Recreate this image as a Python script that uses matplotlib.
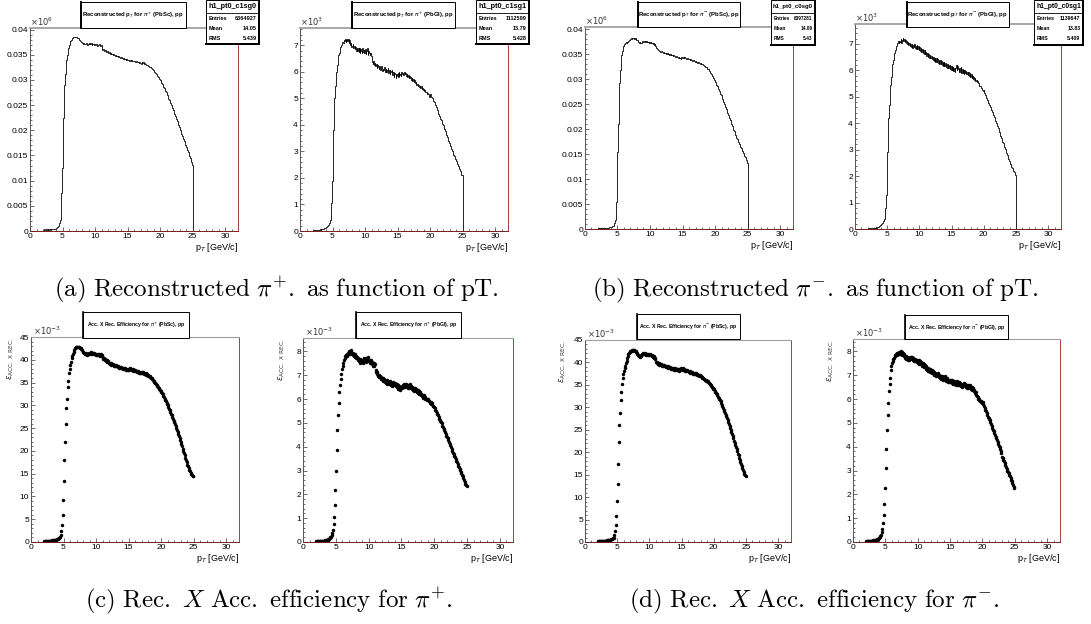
import numpy as np
import matplotlib
matplotlib.use("Agg")
import matplotlib.pyplot as plt
from matplotlib.patches import Rectangle
from matplotlib.lines import Line2D
from matplotlib.ticker import MultipleLocator, AutoMinorLocator, FuncFormatter

W, H = 1091, 624

# pT binning: 0.1 GeV/c bins, filled between 2 and 25 GeV/c
pt_edges = np.linspace(2.0, 25.0, 231)
pt_centers = 0.5 * (pt_edges[:-1] + pt_edges[1:])

# reconstructed pT spectra, counts in units of 10^3 (one row per GeV/c)
pip_pbsc_counts = [
    0.2, 0.2, 0.3, 0.2, 0.2, 0.3, 0.2, 0.3, 0.2, 0.3,
    0.3, 0.3, 0.2, 0.3, 0.3, 0.3, 0.4, 0.3, 0.4, 0.4,
    0.5, 0.6, 0.7, 0.9, 1.1, 1.5, 2.2, 3.8, 7.5, 12.5,
    18.0, 22.5, 26.0, 29.0, 31.2, 32.8, 34.0, 35.0, 35.8, 36.4,
    36.9, 37.3, 37.7, 38.0, 38.2, 38.4, 38.5, 38.5, 38.6, 38.5,
    38.6, 38.5, 38.4, 38.4, 38.3, 38.1, 38.0, 37.8, 37.6, 37.5,
    37.3, 37.2, 37.3, 37.1, 37.2, 37.1, 37.3, 37.2, 37.0, 37.2,
    37.3, 37.2, 37.4, 37.1, 37.3, 37.0, 37.2, 37.1, 36.9, 37.1,
    37.0, 36.9, 37.1, 36.8, 37.0, 36.9, 37.2, 36.8, 36.7, 36.9,
    36.2, 36.0, 35.9, 36.1, 35.8, 35.7, 35.9, 35.6, 35.5, 35.7,
    35.4, 35.3, 35.5, 35.2, 35.3, 35.1, 35.2, 35.0, 35.1, 34.9,
    35.0, 34.8, 34.9, 34.7, 34.8, 34.6, 34.7, 34.5, 34.6, 34.4,
    34.5, 34.3, 34.4, 34.2, 34.3, 34.1, 34.2, 34.0, 34.1, 33.9,
    34.0, 33.9, 34.0, 33.8, 33.9, 33.7, 33.9, 33.8, 33.7, 33.8,
    33.7, 33.8, 33.6, 33.7, 33.5, 33.6, 33.5, 33.4, 33.5, 33.3,
    33.4, 33.2, 33.5, 33.3, 33.6, 33.2, 33.3, 33.1, 33.0, 32.9,
    32.9, 32.8, 32.7, 32.6, 32.6, 32.5, 32.3, 32.2, 32.1, 31.9,
    31.8, 31.6, 31.5, 31.3, 31.1, 30.9, 30.7, 30.5, 30.3, 30.1,
    29.9, 29.6, 29.4, 29.1, 28.9, 28.6, 28.3, 28.0, 27.8, 27.5,
    27.3, 27.0, 26.7, 26.3, 26.0, 25.7, 25.4, 25.0, 24.7, 24.4,
    24.0, 23.6, 23.3, 22.9, 22.6, 22.2, 21.9, 21.5, 21.1, 20.7,
    20.3, 20.0, 19.6, 19.3, 18.9, 18.5, 18.2, 17.8, 17.4, 17.1,
    16.7, 16.3, 16.0, 15.6, 15.2, 14.8, 14.4, 14.0, 13.6, 13.2,
]
pip_pbgl_counts = [
    0.03, 0.02, 0.04, 0.03, 0.05, 0.03, 0.04, 0.05, 0.04, 0.05,
    0.05, 0.06, 0.05, 0.07, 0.08, 0.07, 0.09, 0.10, 0.11, 0.13,
    0.15, 0.17, 0.19, 0.22, 0.26, 0.32, 0.42, 0.62, 1.05, 1.90,
    3.00, 3.80, 4.50, 5.00, 5.45, 5.75, 6.00, 6.25, 6.45, 6.62,
    6.72, 6.85, 6.95, 7.02, 7.08, 7.12, 7.10, 7.18, 7.15, 7.22,
    7.12, 7.20, 7.25, 7.15, 7.22, 7.08, 7.18, 7.02, 7.10, 6.95,
    6.98, 7.05, 6.90, 6.98, 6.85, 6.95, 6.80, 6.90, 6.78, 6.88,
    6.75, 6.90, 6.72, 6.85, 6.80, 6.70, 6.88, 6.75, 6.82, 6.70,
    6.85, 6.68, 6.78, 6.90, 6.65, 6.80, 6.70, 6.62, 6.72, 6.58,
    6.45, 6.38, 6.30, 6.40, 6.25, 6.32, 6.20, 6.28, 6.15, 6.25,
    6.18, 6.10, 6.22, 6.05, 6.15, 6.20, 6.02, 6.12, 6.08, 6.18,
    6.10, 6.00, 6.12, 5.98, 6.08, 6.15, 5.95, 6.05, 5.92, 6.02,
    5.98, 6.05, 5.88, 6.00, 5.82, 5.95, 5.90, 5.78, 5.92, 5.85,
    5.95, 5.80, 5.98, 5.88, 5.92, 5.85, 6.00, 5.90, 5.95, 5.88,
    5.98, 5.90, 5.95, 5.85, 5.92, 5.80, 5.88, 5.78, 5.85, 5.75,
    5.80, 5.70, 5.78, 5.65, 5.72, 5.62, 5.68, 5.58, 5.60, 5.52,
    5.55, 5.45, 5.52, 5.42, 5.48, 5.38, 5.45, 5.35, 5.40, 5.30,
    5.35, 5.28, 5.30, 5.22, 5.25, 5.18, 5.20, 5.15, 5.12, 5.05,
    5.15, 5.10, 5.05, 5.00, 4.95, 4.90, 4.85, 4.80, 4.75, 4.68,
    4.62, 4.55, 4.48, 4.42, 4.35, 4.30, 4.22, 4.18, 4.10, 4.05,
    4.00, 3.92, 3.85, 3.78, 3.70, 3.62, 3.55, 3.48, 3.40, 3.32,
    3.28, 3.20, 3.15, 3.08, 3.00, 2.95, 2.88, 2.82, 2.75, 2.70,
    2.65, 2.58, 2.52, 2.45, 2.40, 2.32, 2.25, 2.18, 2.12, 2.10,
]
pim_pbsc_counts = [
    0.2, 0.1, 0.2, 0.2, 0.1, 0.2, 0.2, 0.2, 0.3, 0.2,
    0.2, 0.3, 0.3, 0.2, 0.3, 0.3, 0.3, 0.4, 0.4, 0.4,
    0.4, 0.5, 0.6, 0.7, 0.9, 1.2, 1.8, 3.0, 5.5, 9.8,
    15.5, 21.0, 25.5, 29.2, 31.8, 33.5, 34.8, 35.7, 36.3, 36.7,
    37.0, 37.2, 37.3, 37.4, 37.3, 37.5, 37.6, 37.8, 37.9, 38.0,
    38.1, 38.2, 38.0, 38.3, 38.2, 38.1, 38.3, 38.0, 38.2, 37.9,
    37.8, 37.6, 37.5, 37.3, 37.4, 37.2, 37.3, 37.5, 37.6, 37.4,
    37.5, 37.6, 37.4, 37.7, 37.5, 37.6, 37.4, 37.5, 37.3, 37.4,
    37.3, 37.4, 37.2, 37.3, 37.1, 37.2, 36.9, 37.0, 36.7, 36.5,
    36.2, 36.0, 35.8, 35.9, 35.6, 35.7, 35.5, 35.6, 35.4, 35.5,
    35.3, 35.4, 35.2, 35.3, 35.1, 35.3, 35.0, 35.2, 35.1, 34.9,
    35.0, 34.9, 35.1, 34.8, 34.9, 34.7, 34.8, 34.6, 34.7, 34.5,
    34.6, 34.4, 34.5, 34.3, 34.4, 34.2, 34.3, 34.1, 34.4, 34.3,
    34.4, 34.5, 34.3, 34.4, 34.2, 34.3, 34.1, 34.2, 34.0, 34.1,
    34.0, 33.9, 34.1, 33.8, 33.9, 33.7, 33.8, 33.6, 33.7, 33.5,
    33.6, 33.4, 33.5, 33.3, 33.4, 33.2, 33.3, 33.1, 33.2, 33.0,
    33.0, 32.9, 32.8, 32.7, 32.6, 32.5, 32.4, 32.3, 32.1, 32.0,
    31.9, 31.7, 31.5, 31.3, 31.1, 30.9, 30.6, 30.3, 30.0, 29.8,
    29.5, 29.2, 28.9, 28.6, 28.3, 28.0, 27.7, 27.4, 27.1, 26.8,
    26.5, 26.1, 25.8, 25.4, 25.1, 24.7, 24.4, 24.0, 23.6, 23.3,
    22.9, 22.5, 22.2, 21.8, 21.4, 21.0, 20.7, 20.3, 19.9, 19.6,
    19.2, 18.9, 18.6, 18.3, 18.0, 17.7, 17.4, 17.1, 16.8, 16.5,
    16.2, 15.9, 15.6, 15.3, 15.0, 14.7, 14.4, 14.1, 13.8, 13.3,
]
pim_pbgl_counts = [
    0.03, 0.04, 0.02, 0.05, 0.03, 0.04, 0.03, 0.05, 0.04, 0.03,
    0.04, 0.05, 0.06, 0.05, 0.07, 0.08, 0.09, 0.10, 0.12, 0.14,
    0.16, 0.19, 0.22, 0.26, 0.31, 0.38, 0.52, 0.80, 1.30, 2.10,
    2.90, 3.60, 4.20, 4.70, 5.10, 5.45, 5.75, 6.00, 6.22, 6.40,
    6.52, 6.65, 6.75, 6.85, 6.90, 6.98, 7.02, 7.10, 7.05, 7.12,
    7.08, 7.18, 7.05, 7.15, 7.22, 7.10, 7.20, 7.08, 7.15, 7.02,
    7.12, 7.00, 7.08, 6.95, 7.05, 6.92, 7.00, 6.88, 6.98, 6.85,
    6.95, 6.88, 7.00, 6.85, 6.92, 6.80, 6.95, 6.82, 6.90, 6.78,
    6.88, 6.72, 6.85, 6.70, 6.80, 6.65, 6.78, 6.62, 6.75, 6.60,
    6.68, 6.55, 6.65, 6.50, 6.62, 6.48, 6.58, 6.45, 6.55, 6.42,
    6.52, 6.38, 6.50, 6.35, 6.48, 6.32, 6.45, 6.30, 6.42, 6.28,
    6.40, 6.25, 6.38, 6.22, 6.35, 6.20, 6.32, 6.18, 6.30, 6.15,
    6.28, 6.12, 6.25, 6.10, 6.22, 6.08, 6.20, 6.05, 6.18, 6.02,
    6.15, 6.00, 6.12, 5.98, 6.10, 5.95, 6.08, 6.20, 6.02, 6.15,
    6.05, 5.92, 6.08, 5.95, 6.12, 5.90, 6.05, 5.88, 6.00, 5.85,
    6.02, 5.88, 5.98, 5.85, 5.95, 5.82, 5.92, 5.78, 5.88, 5.75,
    5.85, 5.72, 5.80, 5.68, 5.75, 5.62, 5.70, 5.58, 5.65, 5.55,
    5.60, 5.52, 5.48, 5.42, 5.40, 5.35, 5.32, 5.28, 5.25, 5.20,
    5.25, 5.15, 5.08, 5.02, 4.95, 4.88, 4.82, 4.75, 4.70, 4.65,
    4.62, 4.55, 4.50, 4.42, 4.35, 4.30, 4.22, 4.15, 4.08, 4.02,
    3.98, 3.90, 3.82, 3.75, 3.68, 3.60, 3.52, 3.45, 3.38, 3.30,
    3.25, 3.18, 3.10, 3.02, 2.95, 2.88, 2.80, 2.72, 2.65, 2.58,
    2.50, 2.45, 2.40, 2.35, 2.30, 2.25, 2.20, 2.15, 2.10, 2.05,
]

# acceptance x reconstruction efficiency, units of 10^-3
pip_pbsc_eff = [
    0.2, 0.2, 0.3, 0.2, 0.3, 0.3, 0.2, 0.3, 0.3, 0.3,
    0.3, 0.3, 0.4, 0.3, 0.4, 0.4, 0.4, 0.5, 0.5, 0.6,
    0.6, 0.7, 0.8, 0.9, 1.2, 1.6, 2.4, 3.8, 6.0, 9.3,
    13.4, 18.0, 22.0, 26.0, 29.5, 31.4, 34.0, 35.3, 37.0, 38.0,
    38.9, 39.6, 40.3, 40.9, 41.3, 41.8, 42.2, 42.5, 42.7, 42.8,
    42.9, 42.8, 42.9, 42.7, 42.8, 42.6, 42.5, 42.3, 42.1, 41.8,
    41.6, 41.4, 41.3, 41.2, 41.4, 41.1, 41.3, 41.2, 41.4, 41.3,
    41.5, 41.3, 41.6, 41.4, 41.3, 41.5, 41.2, 41.4, 41.3, 41.1,
    41.3, 41.1, 41.2, 41.0, 41.3, 40.9, 41.1, 41.2, 40.8, 41.0,
    40.4, 40.1, 40.3, 39.9, 40.1, 39.7, 39.9, 39.6, 39.8, 39.4,
    39.3, 39.1, 39.3, 38.9, 39.1, 38.8, 39.0, 38.7, 38.9, 38.6,
    38.8, 38.6, 38.7, 38.4, 38.6, 38.3, 38.5, 38.2, 38.4, 38.1,
    38.3, 38.0, 38.2, 37.9, 38.1, 37.8, 38.0, 37.8, 37.9, 37.7,
    38.0, 37.8, 38.1, 37.9, 38.0, 37.7, 37.9, 37.6, 37.8, 37.5,
    37.7, 37.5, 37.6, 37.3, 37.5, 37.2, 37.4, 37.1, 37.3, 37.0,
    37.3, 37.0, 37.4, 36.9, 37.2, 36.8, 37.0, 36.7, 36.8, 36.5,
    36.6, 36.4, 36.4, 36.2, 36.1, 35.9, 35.8, 35.6, 35.4, 35.2,
    35.0, 34.8, 34.6, 34.4, 34.2, 34.0, 33.8, 33.6, 33.4, 33.2,
    33.0, 32.7, 32.4, 32.1, 31.8, 31.5, 31.2, 30.9, 30.6, 30.3,
    30.0, 29.6, 29.3, 28.9, 28.5, 28.1, 27.8, 27.4, 27.0, 26.6,
    26.3, 25.9, 25.4, 25.0, 24.6, 24.2, 23.7, 23.3, 22.9, 22.4,
    22.0, 21.5, 21.0, 20.5, 20.0, 19.5, 19.0, 18.5, 18.0, 17.5,
    17.0, 16.6, 16.2, 15.8, 15.5, 15.2, 14.9, 14.7, 14.5, 14.4,
]
pip_pbgl_eff = [
    0.03, 0.04, 0.03, 0.05, 0.04, 0.03, 0.05, 0.04, 0.05, 0.04,
    0.05, 0.06, 0.05, 0.07, 0.06, 0.08, 0.09, 0.10, 0.12, 0.14,
    0.16, 0.19, 0.23, 0.29, 0.38, 0.52, 0.74, 1.05, 1.55, 2.20,
    3.00, 3.85, 4.70, 5.35, 5.85, 6.30, 6.60, 6.85, 7.05, 7.25,
    7.38, 7.52, 7.65, 7.72, 7.80, 7.85, 7.90, 7.82, 7.95, 7.88,
    8.02, 7.90, 7.98, 8.05, 7.92, 7.85, 7.95, 7.80, 7.88, 7.75,
    7.82, 7.70, 7.78, 7.62, 7.72, 7.58, 7.68, 7.52, 7.62, 7.55,
    7.65, 7.52, 7.70, 7.58, 7.62, 7.72, 7.55, 7.68, 7.60, 7.75,
    7.58, 7.65, 7.50, 7.62, 7.45, 7.55, 7.40, 7.52, 7.38, 7.48,
    7.20, 7.12, 7.05, 7.15, 6.98, 7.02, 6.92, 6.98, 6.85, 6.92,
    6.82, 6.90, 6.75, 6.85, 6.72, 6.80, 6.68, 6.78, 6.65, 6.75,
    6.70, 6.62, 6.75, 6.60, 6.68, 6.55, 6.65, 6.72, 6.58, 6.66,
    6.62, 6.55, 6.65, 6.50, 6.60, 6.42, 6.55, 6.38, 6.52, 6.45,
    6.55, 6.48, 6.60, 6.52, 6.62, 6.50, 6.65, 6.55, 6.60, 6.48,
    6.58, 6.45, 6.62, 6.50, 6.55, 6.42, 6.52, 6.38, 6.48, 6.35,
    6.45, 6.32, 6.42, 6.30, 6.38, 6.25, 6.35, 6.20, 6.28, 6.15,
    6.22, 6.12, 6.18, 6.05, 6.15, 6.00, 6.08, 5.98, 6.02, 5.95,
    5.98, 5.90, 5.92, 5.85, 5.88, 5.80, 5.82, 5.72, 5.70, 5.65,
    5.62, 5.55, 5.50, 5.42, 5.38, 5.32, 5.25, 5.18, 5.12, 5.08,
    5.05, 4.98, 4.88, 4.82, 4.75, 4.68, 4.60, 4.52, 4.45, 4.40,
    4.35, 4.28, 4.20, 4.12, 4.05, 3.98, 3.90, 3.82, 3.75, 3.68,
    3.60, 3.55, 3.48, 3.40, 3.35, 3.28, 3.20, 3.15, 3.08, 3.02,
    2.95, 2.88, 2.80, 2.75, 2.68, 2.60, 2.52, 2.45, 2.38, 2.35,
]
pim_pbsc_eff = [
    0.2, 0.2, 0.2, 0.3, 0.2, 0.3, 0.3, 0.2, 0.3, 0.3,
    0.3, 0.3, 0.3, 0.4, 0.3, 0.4, 0.4, 0.5, 0.5, 0.5,
    0.6, 0.6, 0.7, 0.8, 1.0, 1.5, 2.4, 3.7, 5.8, 9.1,
    12.9, 17.4, 22.2, 26.0, 28.7, 31.6, 33.4, 35.1, 36.6, 37.5,
    38.1, 38.7, 39.2, 39.8, 40.4, 41.0, 41.4, 41.8, 42.1, 42.3,
    42.5, 42.6, 42.7, 42.6, 42.8, 42.7, 42.8, 42.6, 42.5, 42.3,
    42.0, 41.8, 41.6, 41.5, 41.4, 41.3, 41.5, 41.6, 41.8, 41.9,
    42.0, 41.9, 41.8, 42.0, 41.7, 41.9, 41.8, 41.7, 41.9, 41.6,
    41.8, 41.6, 41.7, 41.5, 41.6, 41.3, 41.4, 41.1, 41.0, 40.7,
    40.2, 39.9, 40.0, 39.7, 39.8, 39.5, 39.7, 39.4, 39.6, 39.3,
    39.5, 39.2, 39.4, 39.1, 39.3, 39.0, 39.2, 38.9, 39.1, 38.8,
    39.0, 38.7, 38.9, 38.6, 38.8, 38.5, 38.7, 38.4, 38.6, 38.3,
    38.7, 38.5, 38.6, 38.3, 38.5, 38.2, 38.6, 38.4, 38.8, 38.5,
    38.6, 38.3, 38.7, 38.4, 38.5, 38.2, 38.4, 38.1, 38.3, 38.0,
    38.1, 37.8, 38.0, 37.7, 37.9, 37.6, 37.8, 37.5, 37.7, 37.4,
    37.7, 37.4, 37.6, 37.2, 37.4, 37.1, 37.3, 37.0, 37.1, 36.9,
    36.9, 36.8, 36.6, 36.5, 36.4, 36.3, 36.2, 36.1, 35.9, 35.8,
    35.8, 35.6, 35.5, 35.3, 35.1, 34.9, 34.7, 34.5, 34.3, 34.1,
    34.0, 33.7, 33.5, 33.2, 32.9, 32.7, 32.4, 32.1, 31.8, 31.6,
    31.3, 30.9, 30.6, 30.2, 29.8, 29.5, 29.1, 28.7, 28.3, 28.0,
    27.6, 27.2, 26.7, 26.3, 25.8, 25.4, 24.9, 24.5, 24.0, 23.6,
    23.1, 22.6, 22.1, 21.7, 21.2, 20.7, 20.2, 19.7, 19.3, 18.8,
    18.3, 17.8, 17.3, 16.9, 16.4, 16.0, 15.6, 15.2, 14.9, 14.6,
]
pim_pbgl_eff = [
    0.04, 0.05, 0.03, 0.05, 0.04, 0.05, 0.04, 0.06, 0.05, 0.06,
    0.06, 0.07, 0.06, 0.08, 0.07, 0.09, 0.10, 0.11, 0.13, 0.15,
    0.17, 0.20, 0.24, 0.30, 0.40, 0.55, 0.80, 1.15, 1.60, 2.25,
    3.10, 3.90, 4.70, 5.35, 5.85, 6.35, 6.65, 6.90, 7.20, 7.40,
    7.52, 7.60, 7.68, 7.72, 7.80, 7.85, 7.88, 7.92, 7.85, 7.95,
    7.90, 7.98, 7.88, 8.02, 7.92, 7.98, 7.85, 7.95, 7.82, 7.88,
    7.72, 7.80, 7.68, 7.75, 7.62, 7.72, 7.65, 7.78, 7.70, 7.75,
    7.68, 7.78, 7.62, 7.72, 7.60, 7.70, 7.58, 7.65, 7.55, 7.62,
    7.52, 7.62, 7.48, 7.58, 7.45, 7.55, 7.40, 7.50, 7.38, 7.45,
    7.35, 7.42, 7.28, 7.38, 7.22, 7.32, 7.18, 7.28, 7.15, 7.25,
    7.12, 7.22, 7.08, 7.18, 7.02, 7.15, 7.00, 7.10, 6.98, 7.05,
    7.00, 7.08, 6.92, 7.02, 6.88, 6.98, 6.85, 6.95, 6.82, 6.92,
    6.85, 6.95, 6.80, 6.90, 6.75, 6.88, 6.72, 6.82, 6.70, 6.80,
    6.72, 6.82, 6.68, 6.78, 6.65, 6.75, 6.62, 6.72, 6.60, 6.70,
    6.65, 6.75, 6.60, 6.72, 6.58, 6.68, 6.55, 6.65, 6.52, 6.62,
    6.58, 6.68, 6.55, 6.62, 6.50, 6.60, 6.48, 6.58, 6.45, 6.55,
    6.50, 6.58, 6.42, 6.52, 6.38, 6.45, 6.32, 6.40, 6.25, 6.30,
    6.18, 6.12, 6.08, 6.02, 6.00, 5.95, 5.92, 5.90, 5.88, 5.85,
    5.88, 5.80, 5.72, 5.62, 5.55, 5.48, 5.40, 5.32, 5.25, 5.19,
    5.18, 5.10, 5.02, 4.95, 4.88, 4.80, 4.72, 4.65, 4.58, 4.50,
    4.42, 4.35, 4.28, 4.20, 4.12, 4.05, 3.98, 3.90, 3.82, 3.72,
    3.58, 3.52, 3.45, 3.38, 3.30, 3.22, 3.15, 3.08, 3.00, 2.95,
    2.88, 2.82, 2.75, 2.68, 2.62, 2.55, 2.48, 2.40, 2.32, 2.25,
]

hist_titles = [
    r"Reconstructed p$_{T}$ for $\pi^{+}$ (PbSc), pp",
    r"Reconstructed p$_{T}$ for $\pi^{+}$ (PbGl), pp",
    r"Reconstructed p$_{T}$ for $\pi^{-}$ (PbSc), pp",
    r"Reconstructed p$_{T}$ for $\pi^{-}$ (PbGl), pp",
]
eff_titles = [
    r"Acc. X Rec. Efficiency for $\pi^{+}$ (PbSc), pp",
    r"Acc. X Rec. Efficiency for $\pi^{+}$ (PbGl), pp",
    r"Acc. X Rec. Efficiency for $\pi^{-}$ (PbSc), pp",
    r"Acc. X Rec. Efficiency for $\pi^{-}$ (PbGl), pp",
]
stat_names = ["h1_pt0_c1sg0", "h1_pt0_c1sg1", "h1_pt0_c0sg0", "h1_pt0_c0sg1"]
stat_entries = ["6364927", "1112599", "6397281", "1139647"]
stat_means = ["14.05", "13.79", "14.09", "13.83"]
stat_rms = ["5.439", "5.428", "5.43", "5.409"]
captions = [
    r"$\mathrm{(a)\ Reconstructed\ }\pi^{+}\mathrm{.\ as\ function\ of\ pT.}$",
    r"$\mathrm{(b)\ Reconstructed\ }\pi^{-}\mathrm{.\ as\ function\ of\ pT.}$",
    r"$\mathrm{(c)\ Rec.\ }X\mathrm{\ Acc.\ efficiency\ for\ }\pi^{+}\mathrm{.}$",
    r"$\mathrm{(d)\ Rec.\ }X\mathrm{\ Acc.\ efficiency\ for\ }\pi^{-}\mathrm{.}$",
]

plt.rcParams["font.family"] = ["Liberation Sans", "DejaVu Sans"]

fig = plt.figure(figsize=(W / 100, H / 100), dpi=100)


def fx(x):
    return x / W


def fy(y):
    return 1 - y / H


def add_axes_px(l, t, r, b):
    return fig.add_axes([fx(l), fy(b), (r - l) / W, (b - t) / H])


def style_axes(ax, ymax, ystep, top_lw):
    ax.set_xlim(0, 32)
    ax.set_ylim(0, ymax)
    ax.xaxis.set_major_locator(MultipleLocator(5))
    ax.xaxis.set_minor_locator(AutoMinorLocator(5))
    ax.yaxis.set_major_locator(MultipleLocator(ystep))
    ax.yaxis.set_minor_locator(AutoMinorLocator(5))
    ax.yaxis.set_major_formatter(FuncFormatter(lambda v, p: "%g" % round(v, 6)))
    ax.tick_params(which="both", direction="in", top=False, right=False,
                   labelsize=6, pad=1.5, color="#333333")
    ax.tick_params(which="major", length=3.2, width=0.5)
    ax.tick_params(which="minor", length=1.6, width=0.5)
    ax.spines["left"].set_color("#555555")
    ax.spines["bottom"].set_color("#7a1f1f")
    ax.spines["right"].set_color("#a84040")
    ax.spines["top"].set_color("#a0a0a0")
    for s in ["left", "bottom", "right"]:
        ax.spines[s].set_linewidth(0.7)
    ax.spines["top"].set_linewidth(top_lw)
    ax.set_xlabel(r"p$_{T}$ [GeV/c]", loc="right", fontsize=6.5, labelpad=0.5)


def add_box(l, t, r, b, lw=0.7):
    fig.add_artist(Rectangle((fx(l), fy(b)), (r - l) / W, (b - t) / H,
                             transform=fig.transFigure, facecolor="white",
                             edgecolor="black", linewidth=lw, zorder=5))


def add_line(x0, y0, x1, y1, lw, color="black"):
    fig.add_artist(Line2D([fx(x0), fx(x1)], [fy(y0), fy(y1)],
                          transform=fig.transFigure, color=color,
                          linewidth=lw, zorder=6))


# ---- top row: reconstructed pT spectra ----
hist_axes = [(30, 28, 238, 231), (300, 28, 508, 231), (585, 27, 793, 229), (855, 24, 1061, 229)]
hist_data = [pip_pbsc_counts, pip_pbgl_counts, pim_pbsc_counts, pim_pbgl_counts]
hist_scale = [1e-3, 1.0, 1e-3, 1.0]
hist_ymax = [0.0403, 7.65, 0.0405, 7.75]
hist_ystep = [0.005, 1, 0.005, 1]
hist_mult = [r"$\times10^{6}$", r"$\times10^{3}$", r"$\times10^{6}$", r"$\times10^{3}$"]
title_boxes_top = [(81, 2, 186, 28), (352, 2, 455, 28), (638, 2, 740, 27), (907, 2, 1009, 27)]
stat_boxes = [(206, 0, 259, 44), (476, 0, 529, 44), (771, 0, 815, 45), (1034, 0, 1083, 45)]
stat_head_size = [5.2, 5.2, 4.3, 4.9]
stat_row_size = [4.0, 4.0, 3.4, 3.8]

for i in range(4):
    ax = add_axes_px(*hist_axes[i])
    vals = np.array(hist_data[i]) * hist_scale[i]
    ax.stairs(vals, pt_edges, baseline=0, color="black", linewidth=0.6)
    style_axes(ax, hist_ymax[i], hist_ystep[i], 1.3)
    ax.text(0.0, 1.0, hist_mult[i], transform=ax.transAxes, ha="left", va="bottom",
            fontsize=6, color="#333333", math_fontfamily="dejavusans")

    l, t, r, b = title_boxes_top[i]
    add_box(l, t, r, b)
    add_line(l, t, l, b, 1.4)
    fig.text(fx((l + r) / 2), fy((t + b) / 2), hist_titles[i], ha="center", va="center",
             fontsize=4.3, fontweight="bold", zorder=7, math_fontfamily="dejavusans")

    l, t, r, b = stat_boxes[i]
    add_box(l, t, r, b)
    add_line(r, t, r, b, 1.4)
    add_line(l, b, r, b, 1.4)
    add_line(l, t + 13, r, t + 13, 0.6)
    fig.text(fx((l + r) / 2), fy(t + 6.5), stat_names[i], ha="center", va="center",
             fontsize=stat_head_size[i], fontweight="bold", zorder=7)
    for j, (lab, val) in enumerate([("Entries", stat_entries[i]), ("Mean", stat_means[i]),
                                    ("RMS", stat_rms[i])]):
        yy = fy(t + 19 + 10 * j)
        fig.text(fx(l + 2.5), yy, lab, ha="left", va="center", fontsize=stat_row_size[i],
                 fontweight="bold", zorder=7)
        fig.text(fx(r - 2.5), yy, val, ha="right", va="center", fontsize=stat_row_size[i],
                 fontweight="bold", zorder=7)

# ---- bottom row: acceptance x reconstruction efficiency ----
eff_axes = [(31, 337, 239, 542), (303, 338, 513, 542), (585, 340, 791, 542), (853, 339, 1060, 542)]
eff_data = [pip_pbsc_eff, pip_pbgl_eff, pim_pbsc_eff, pim_pbgl_eff]
eff_ymax = [45, 8.56, 45, 8.52]
eff_ystep = [5, 1, 5, 1]
eff_ylabel_x = [11, 282, 563, 831]
title_boxes_bot = [(83, 312, 189, 338), (356, 312, 461, 338), (637, 314, 740, 339), (905, 315, 1008, 339)]

for i in range(4):
    ax = add_axes_px(*eff_axes[i])
    ax.plot(pt_centers, eff_data[i], "o", color="black", markersize=2.5,
            markeredgewidth=0, clip_on=True)
    style_axes(ax, eff_ymax[i], eff_ystep[i], 0.8)
    ax.text(0.01, 1.0, r"$\times10^{-3}$", transform=ax.transAxes, ha="left", va="bottom",
            fontsize=6, color="#333333", math_fontfamily="dejavusans")
    fig.text(fx(eff_ylabel_x[i]), fy(eff_axes[i][1]), r"$\epsilon_{\mathrm{ACC.\ X\ REC.}}$",
             rotation=90, ha="center", va="top", fontsize=6, color="#333333",
             math_fontfamily="dejavusans")

    l, t, r, b = title_boxes_bot[i]
    add_box(l, t, r, b)
    add_line(l, t, l, b, 1.2)
    fig.text(fx((l + r) / 2), fy((t + b) / 2), eff_titles[i], ha="center", va="center",
             fontsize=3.7, fontweight="bold", zorder=7, math_fontfamily="dejavusans")

# ---- sub-figure captions ----
caption_pos = [(276, 290), (815, 290), (269, 601), (814, 601)]
for cap, (cx, cy) in zip(captions, caption_pos):
    fig.text(fx(cx), fy(cy), cap, ha="center", va="center", fontsize=18,
             math_fontfamily="cm")

fig.savefig("out.png", dpi=100)
